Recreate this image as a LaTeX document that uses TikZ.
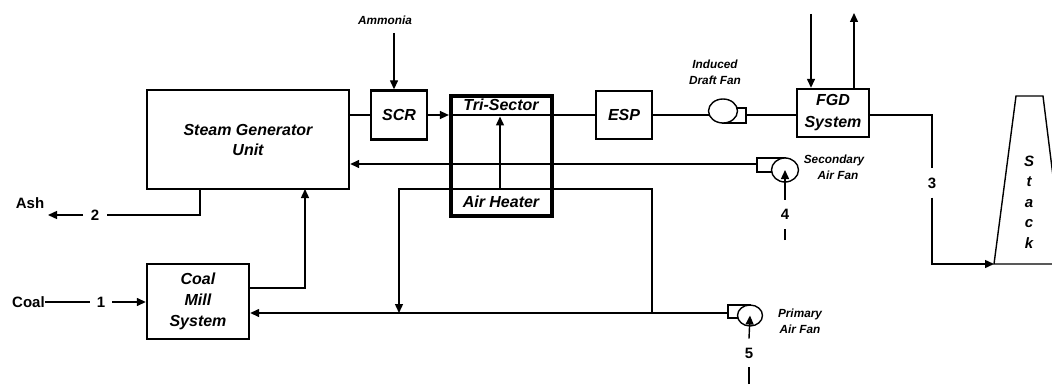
\documentclass[tikz,border=0pt]{standalone}
\usepackage{fontspec}
\setmainfont{Liberation Sans}
\usetikzlibrary{arrows.meta,shapes.geometric}
\begin{document}
\begin{tikzpicture}[x=1pt,y=-1pt,
  line/.style={line width=1.4pt,line join=miter},
  arr/.style={line width=1.4pt,-{Triangle[length=9pt,width=8pt]}},
  unit/.style={draw,line width=2.4pt,inner sep=0pt,align=center,font=\fontsize{16}{20}\selectfont\bfseries\itshape},
  heavy/.style={draw,line width=4.2pt,inner sep=0pt},
  lbl/.style={inner sep=0pt,font=\fontsize{16}{20}\selectfont\bfseries\itshape},
  small/.style={inner sep=0pt,align=center,font=\fontsize{11.8}{16}\selectfont\bfseries\itshape},
  num/.style={inner sep=0pt,font=\fontsize{15}{18}\selectfont\bfseries},
  fanbody/.style={draw,ellipse,line width=1.4pt,fill=white,inner sep=0pt},
  fanout/.style={draw,line width=1.4pt,fill=white}
]
\useasboundingbox (0,0) rectangle (1052,385);
\clip (0,0) rectangle (1052,385);

% ---------- units ----------
\node[unit,minimum width=202pt,minimum height=99pt] (sg) at (248,139.5) {Steam Generator\\Unit};
\node[unit,minimum width=56pt,minimum height=49pt] (scr) at (399,115) {SCR};
\node[heavy,minimum width=101pt,minimum height=120pt] (ah) at (501.5,156) {};
\node[lbl] (ahtop) at (501,104.5) {Tri-Sector};
\node[lbl] (ahbot) at (501,202) {Air Heater};
\node[unit,minimum width=56pt,minimum height=48pt] (esp) at (624,115) {ESP};
\node[unit,minimum width=72pt,minimum height=48pt,font=\fontsize{16}{22}\selectfont\bfseries\itshape] (fgd) at (833,113) {FGD\\System};
\node[unit,minimum width=102pt,minimum height=75pt,font=\fontsize{16}{21}\selectfont\bfseries\itshape] (cm) at (198,301.5) {Coal\\Mill\\System};

% ---------- stack ----------
\draw[line width=1.4pt] (994,264) -- (1016,96) -- (1043,96) -- (1064,264) -- cycle;
\coordinate (stackbl) at (994,264);
\node[inner sep=0pt,align=center,font=\fontsize{15}{20.5}\selectfont\bfseries\itshape] (stack) at (1029,202) {S\\t\\a\\c\\k};

% ---------- text labels ----------
\node[small] (amm) at (385,20) {Ammonia};
\node[small] (idlbl) at (715,72.5) {Induced\\Draft Fan};
\node[small] (seclbl) at (834,167) {Secondary\\\hspace*{8pt}Air Fan};
\node[small] (prilbl) at (800,321.5) {Primary\\Air Fan};
\node[num] (ash) at (30,203) {Ash};
\node[num] (coal) at (28.5,302) {Coal};
\node[num,inner xsep=7pt] (n1) at (101,302) {1};
\node[num,inner xsep=7.5pt] (n2) at (95,215) {2};
\node[num,inner ysep=9pt,inner xsep=3pt] (n3) at (932,183) {3};
\node[num,inner ysep=9.5pt,inner xsep=3pt] (n4) at (785,214.5) {4};
\node[num,inner ysep=9pt,inner xsep=3pt] (n5) at (749,353) {5};

% ---------- coordinates ----------
\coordinate (ammin) at (394,33);
\coordinate (fgdin) at (811,14);
\coordinate (fgdout) at (854,13);
\coordinate (idout) at (746,115);
\coordinate (secout) at (757,164);
\coordinate (priout) at (728,313);
\coordinate (lt) at (399,189);
\coordinate (rt) at (652,189);
\coordinate (jL) at (399,313);
\coordinate (jR) at (652,313);
\coordinate (ahmid) at (500,189);
\coordinate (ashtap) at (200,189);
\coordinate (ashend) at (48,215);
\coordinate (cmout) at (249,288);
\coordinate (sgin) at (305,189);
\coordinate (s4) at (785,240);
\coordinate (s5) at (749,384);

% ---------- flue gas path ----------
\draw[line] (sg.east |- scr.west) -- (scr.west);
\draw[arr] (scr.east) -- (ah.west |- scr.east);
\draw[line] (ah.west |- esp.west) -- (esp.west);
\draw[line] (esp.east) -- (709,115);
\draw[line] (idout) -- (fgd.west |- idout);
\draw[line] (fgd.east |- idout) -| (n3.north);
\draw[arr] (n3.south) |- (stackbl);
\draw[arr] (ammin) -- (ammin |- scr.north);
\draw[arr] (fgdin) -- (fgdin |- fgd.north);
\draw[arr] (fgdout |- fgd.north) -- (fgdout);

% ---------- air paths ----------
\draw[arr] (secout) -- (sg.east |- secout);
\draw[arr] (jR) -- (rt) -- (lt) -- (jL);
\draw[arr] (ahmid) -- (500,116.5);
\draw[arr] (priout) -- (cm.east |- priout);
\draw[arr] (cmout) -| (sgin);
\draw[line] (ashtap) |- (n2.east);
\draw[arr] (n2.west) -- (ashend);
\draw[line] (coal.east) -- (n1.west);
\draw[arr] (n1.east) -- (cm.west |- n1.east);

% ---------- fans ----------
\draw[fanout] (723,108) rectangle (746,123);
\node[fanbody,minimum width=29pt,minimum height=24pt] (idfan) at (723,111) {};
\draw[fanout] (757,158) rectangle (785,172);
\node[fanbody,minimum width=27pt,minimum height=24pt] (secfan) at (785,170) {};
\draw[fanout] (728,305) rectangle (750,318);
\node[fanbody,minimum width=25pt,minimum height=21pt] (prifan) at (750,315.5) {};

\draw[arr] (n4.north) -- (secfan.center);
\draw[line] (s4) -- (n4.south);
\draw[arr] (n5.north) -- (prifan.center);
\draw[line] (s5) -- (n5.south);
\end{tikzpicture}
\end{document}
